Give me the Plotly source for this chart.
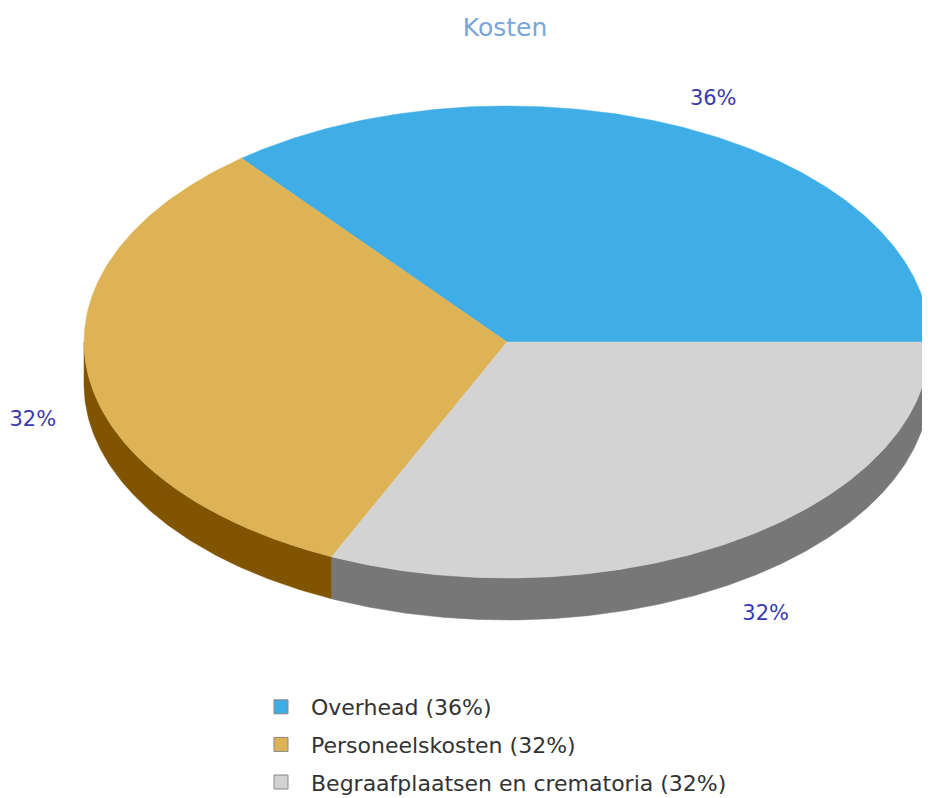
import numpy as np
import plotly.graph_objects as go

# ---- data ----
categories = ["Overhead", "Personeelskosten", "Begraafplaatsen en crematoria"]
values = [35.8, 32.4, 31.8]
title_text = "Kosten"

# ---- style ----
top_colors = ["#40AEE6", "#DDB356", "#D3D3D3"]
side_colors = ["#2A7DA8", "#805400", "#777777"]
label_color = "#3A3AAE"
FONT = "DejaVu Sans"

W, H = 930, 798
OFF = 8  # page body margin offset
CX, CY, RX, RY, DEPTH = 507, 342, 423, 236, 42
LABEL_SX, LABEL_SY, LABEL_DY = 1.13, 1.15, 3

total = float(sum(values))
fracs = [v / total for v in values]
angles = []
s = 0.0
for f in fracs:
    angles.append((s, s + f * 360.0))
    s += f * 360.0


def arc(a0, a1, dy=0.0, n=None):
    if n is None:
        n = max(2, int(abs(a1 - a0) * 2) + 2)
    t = np.radians(np.linspace(a0, a1, n))
    return CX + RX * np.cos(t), CY - RY * np.sin(t) + dy


fig = go.Figure()

# side walls (front half only)
for (a0, a1), col in zip(angles, side_colors):
    lo, hi = max(a0, 180.0), min(a1, 360.0)
    if hi <= lo:
        continue
    xt, yt = arc(lo, hi)
    xb, yb = arc(hi, lo, dy=DEPTH)
    xs = np.concatenate([xt, xb, xt[:1]])
    ys = np.concatenate([yt, yb, yt[:1]])
    fig.add_trace(go.Scatter(x=xs, y=ys, mode="lines", fill="toself",
                             fillcolor=col, line=dict(color=col, width=0.5),
                             hoverinfo="skip", showlegend=False))

# top faces
for (a0, a1), col, cat, v in zip(angles, top_colors, categories, values):
    xa, ya = arc(a0, a1)
    xs = np.concatenate([[CX], xa, [CX]])
    ys = np.concatenate([[CY], ya, [CY]])
    fig.add_trace(go.Scatter(x=xs, y=ys, mode="lines", fill="toself",
                             fillcolor=col, line=dict(color=col, width=0.5),
                             name=cat, hoverinfo="name", showlegend=False))

# percentage labels
lx, ly, lt = [], [], []
for (a0, a1), f in zip(angles, fracs):
    mid = np.radians((a0 + a1) / 2.0)
    x = CX + RX * LABEL_SX * np.cos(mid)
    y = CY - RY * LABEL_SY * np.sin(mid) + LABEL_DY
    if np.sin(mid) < 0:
        y += DEPTH
    lx.append(x); ly.append(y); lt.append(f"{round(f * 100)}%")
fig.add_trace(go.Scatter(x=lx, y=ly, mode="text", text=lt, cliponaxis=False,
                         textfont=dict(family=FONT, size=21, color=label_color),
                         hoverinfo="skip", showlegend=False))

# legend entries
for i, (cat, col, f) in enumerate(zip(categories, top_colors, fracs)):
    fig.add_trace(go.Scatter(x=[None], y=[None], mode="markers",
                             marker=dict(symbol="square", size=14, color=col,
                                         line=dict(color="#888888", width=1)),
                             name=f"{cat} ({round(f * 100)}%)",
                             legendgroup=f"g{i}", showlegend=True))

fig.update_layout(
    width=W, height=H,
    margin=dict(l=0, r=0, t=0, b=0),
    paper_bgcolor="white", plot_bgcolor="white",
    xaxis=dict(range=[OFF, W + OFF], visible=False, domain=[0, 1]),
    yaxis=dict(range=[H + OFF, OFF], visible=False, domain=[0, 1]),
    title=dict(text=title_text, x=(505 - OFF) / W, xanchor="center",
               y=1 - (27 - OFF) / H, yanchor="middle",
               font=dict(family=FONT, size=25, color="#7BA6D6")),
    legend=dict(x=(251 - OFF) / W, xanchor="left", y=1 - (686 - OFF) / H, yanchor="top",
                orientation="v", tracegroupgap=6, itemwidth=50,
                font=dict(family=FONT, size=22, color="#333333"),
                bgcolor="rgba(0,0,0,0)"),
    showlegend=True,
)

fig.write_html("out.html")
